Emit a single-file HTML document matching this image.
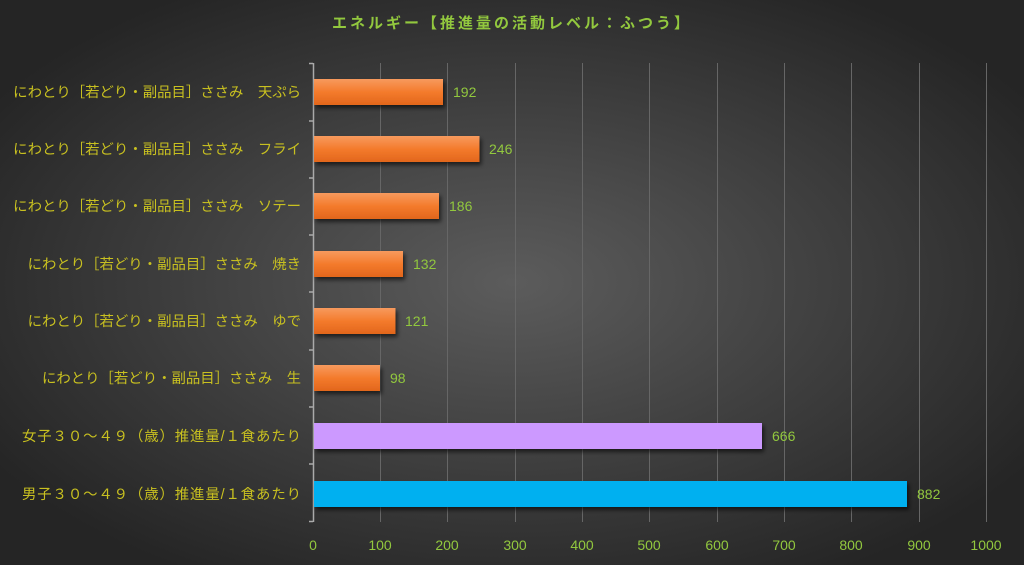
<!DOCTYPE html>
<html><head><meta charset="utf-8"><style>
html,body{margin:0;padding:0;width:1024px;height:565px;overflow:hidden;background:#2a2a2a}
svg text{font-family:"Liberation Sans","Noto Sans CJK JP",sans-serif}
</style></head><body>
<svg width="1024" height="565" xmlns="http://www.w3.org/2000/svg">
<defs>
<radialGradient id="bg" cx="0.5" cy="0.5" r="0.6">
<stop offset="0" stop-color="#5c5c5c"/><stop offset="1" stop-color="#252525"/>
</radialGradient>
<linearGradient id="or" x1="0" y1="0" x2="0" y2="1">
<stop offset="0" stop-color="#f79a5e"/><stop offset="0.5" stop-color="#f47b2c"/><stop offset="1" stop-color="#e2661c"/>
</linearGradient>
<filter id="sh" x="-5%" y="-20%" width="110%" height="160%"><feDropShadow dx="2" dy="3" stdDeviation="2" flood-color="#000" flood-opacity="0.6"/></filter>
</defs>
<rect width="1024" height="565" fill="url(#bg)"/>
<text x="512" y="28" text-anchor="middle" font-size="15" font-weight="bold" letter-spacing="3" fill="#92c83e">エネルギー【推進量の活動レベル：ふつう】</text>
<g stroke="#666" stroke-width="1">
<line x1="380.5" y1="63" x2="380.5" y2="522"/><line x1="447.5" y1="63" x2="447.5" y2="522"/>
<line x1="515.5" y1="63" x2="515.5" y2="522"/><line x1="582.5" y1="63" x2="582.5" y2="522"/>
<line x1="649.5" y1="63" x2="649.5" y2="522"/><line x1="717.5" y1="63" x2="717.5" y2="522"/>
<line x1="784.5" y1="63" x2="784.5" y2="522"/><line x1="851.5" y1="63" x2="851.5" y2="522"/>
<line x1="919.5" y1="63" x2="919.5" y2="522"/><line x1="986.5" y1="63" x2="986.5" y2="522"/>
</g>
<g stroke="#aaa" stroke-width="1.5">
<line x1="313.5" y1="63" x2="313.5" y2="522"/>
<line x1="309" y1="63.5" x2="313" y2="63.5"/><line x1="309" y1="121" x2="313" y2="121"/>
<line x1="309" y1="178" x2="313" y2="178"/><line x1="309" y1="235" x2="313" y2="235"/>
<line x1="309" y1="292" x2="313" y2="292"/><line x1="309" y1="350" x2="313" y2="350"/>
<line x1="309" y1="407" x2="313" y2="407"/><line x1="309" y1="464" x2="313" y2="464"/>
<line x1="309" y1="521.5" x2="313" y2="521.5"/>
</g>
<g filter="url(#sh)">
<rect x="314" y="79" width="129" height="26" fill="url(#or)"/>
<rect x="314" y="136" width="165.5" height="26" fill="url(#or)"/>
<rect x="314" y="193" width="125" height="26" fill="url(#or)"/>
<rect x="314" y="251" width="89" height="26" fill="url(#or)"/>
<rect x="314" y="308" width="81.5" height="26" fill="url(#or)"/>
<rect x="314" y="365" width="66" height="26" fill="url(#or)"/>
<rect x="314" y="423" width="448" height="26" fill="#cc99ff"/>
<rect x="314" y="481" width="593" height="26" fill="#00b0f0"/>
</g>
<g font-size="14" fill="#92c83e">
<text x="453" y="97">192</text><text x="489" y="154">246</text><text x="449" y="211">186</text>
<text x="413" y="269">132</text><text x="405" y="326">121</text><text x="390" y="383">98</text>
<text x="772" y="441">666</text><text x="917" y="499">882</text>
</g>
<g font-size="14.4" fill="#c8c020" text-anchor="end">
<text x="301" y="97">にわとり［若どり・副品目］ささみ　天ぷら</text>
<text x="301" y="154">にわとり［若どり・副品目］ささみ　フライ</text>
<text x="301" y="211">にわとり［若どり・副品目］ささみ　ソテー</text>
<text x="301" y="269">にわとり［若どり・副品目］ささみ　焼き</text>
<text x="301" y="326">にわとり［若どり・副品目］ささみ　ゆで</text>
<text x="301" y="383">にわとり［若どり・副品目］ささみ　生</text>
<text x="301" y="441" textLength="279" lengthAdjust="spacing">女子３０～４９（歳）推進量/１食あたり</text>
<text x="301" y="499" textLength="279" lengthAdjust="spacing">男子３０～４９（歳）推進量/１食あたり</text>
</g>
<g font-size="14" fill="#92c83e" text-anchor="middle">
<text x="313" y="550">0</text><text x="380" y="550">100</text><text x="447" y="550">200</text>
<text x="515" y="550">300</text><text x="582" y="550">400</text><text x="649" y="550">500</text>
<text x="717" y="550">600</text><text x="784" y="550">700</text><text x="851" y="550">800</text>
<text x="919" y="550">900</text><text x="986" y="550">1000</text>
</g>
</svg>
</body></html>
